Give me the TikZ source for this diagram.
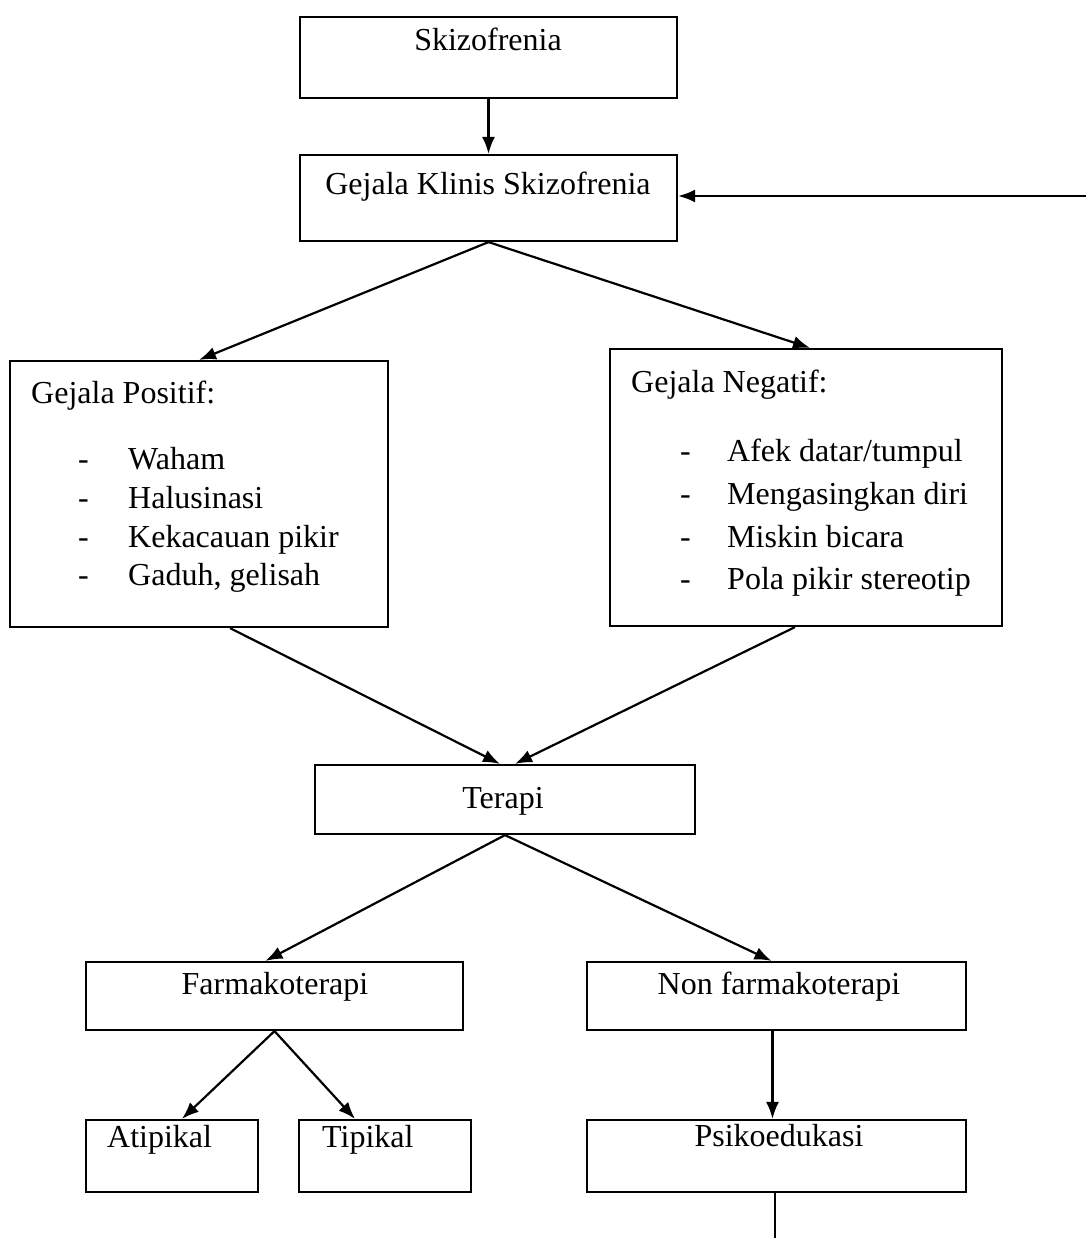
\documentclass[tikz,border=0pt]{standalone}
\usepackage{fontspec}
\setmainfont{Liberation Serif}
\usetikzlibrary{arrows.meta,calc}
\begin{document}
\begin{tikzpicture}[x=1pt,y=-1pt,
  box/.style={draw,line width=2.2pt,inner sep=0pt},
  txt/.style={inner sep=0pt,font=\fontsize{32}{38}\selectfont},
  arr/.style={line width=2.2pt,-{Latex[length=17pt,width=13pt]}},
  ln/.style={line width=2.2pt}]
\useasboundingbox (0,0) rectangle (1086,1238);
% boxes
\node[box,minimum width=377pt,minimum height=81pt] (sk) at (488.5,57.5) {};
\node[box,minimum width=377pt,minimum height=86pt] (gk) at (488.5,198) {};
\node[box,minimum width=378pt,minimum height=266pt] (pos) at (199,494) {};
\node[box,minimum width=392pt,minimum height=277pt] (neg) at (806,487.5) {};
\node[box,minimum width=380pt,minimum height=69pt] (ter) at (505,799.5) {};
\node[box,minimum width=377pt,minimum height=68pt] (far) at (274.5,996) {};
\node[box,minimum width=379pt,minimum height=68pt] (non) at (776.5,996) {};
\node[box,minimum width=172pt,minimum height=72pt] (ati) at (172,1156) {};
\node[box,minimum width=172pt,minimum height=72pt] (tip) at (385,1156) {};
\node[box,minimum width=379pt,minimum height=72pt] (psi) at (776.5,1156) {};
% texts
\node[txt,anchor=base] (tsk) at (488,51) {Skizofrenia};
\node[txt,anchor=base] (tgk) at (488,195) {Gejala Klinis Skizofrenia};
\node[txt,anchor=base west] (tpos) at (31,403) {Gejala Positif:};
\foreach \t/\y/\n in {{Waham}/469/a,{Halusinasi}/508/b,{Kekacauan pikir}/547/c,{Gaduh, gelisah}/585/d}{
  \node[txt,anchor=base west] (pd\n) at (78,\y) {-};
  \node[txt,anchor=base west] (pi\n) at (128,\y) {\t};
}
\node[txt,anchor=base west] (tneg) at (631,392) {Gejala Negatif:};
\foreach \t/\y/\n in {{Afek datar/tumpul}/461/a,{Mengasingkan diri}/504/b,{Miskin bicara}/547/c,{Pola pikir stereotip}/589/d}{
  \node[txt,anchor=base west] (nd\n) at (680,\y) {-};
  \node[txt,anchor=base west] (ni\n) at (727,\y) {\t};
}
\node[txt,anchor=base] (tter) at (503,808) {Terapi};
\node[txt,anchor=base] (tfar) at (275,994) {Farmakoterapi};
\node[txt,anchor=base] (tnon) at (779,994) {Non farmakoterapi};
\node[txt,anchor=base west] (tati) at (107,1147) {Atipikal};
\node[txt,anchor=base west] (ttip) at (322,1147) {Tipikal};
\node[txt,anchor=base] (tpsi) at (779,1146) {Psikoedukasi};
% connectors
\coordinate (fb) at (1086,196);
\coordinate (endl) at (775,1238);
\draw[arr] (sk.south) -- (gk.north);
\draw[arr] (fb) -- (gk.east |- fb);
\draw[arr] (gk.south) -- (pos.north);
\draw[arr] (gk.south) -- ($(neg.north)+(4,0)$);
\draw[arr] ($(pos.south)+(31,0)$) -- ($(ter.north)+(-5,0)$);
\draw[arr] ($(neg.south)+(-11,0)$) -- ($(ter.north)+(10,0)$);
\draw[arr] (ter.south) -- ($(far.north)+(-9,0)$);
\draw[arr] (ter.south) -- ($(non.north)+(-5,0)$);
\draw[arr] (far.south) -- ($(ati.north)+(10,0)$);
\draw[arr] (far.south) -- ($(tip.north)+(-30,0)$);
\draw[arr] ($(non.south)+(-4,0)$) -- ($(psi.north)+(-4,0)$);
\draw[ln] (psi.south -| endl) -- (endl);
\end{tikzpicture}
\end{document}
